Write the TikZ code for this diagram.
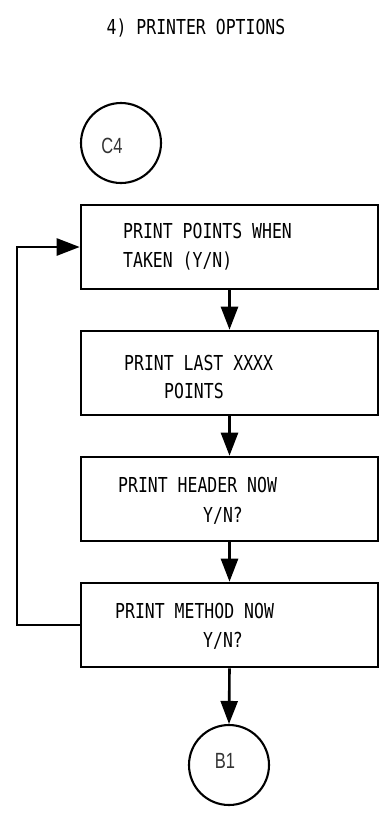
\documentclass[tikz,border=0pt]{standalone}
\usepackage{fontspec}
\usetikzlibrary{arrows.meta}
\newfontfamily\monofnt[FakeStretch=0.80]{DejaVu Sans Mono}
\newfontfamily\circfnt[FakeStretch=0.75]{Liberation Sans}
\tikzset{
  boxnode/.style={draw, line width=2.6pt, rectangle, minimum width=297pt, minimum height=84pt, inner sep=0pt},
  circnode/.style={draw, line width=2.1pt, circle, minimum size=80pt, inner sep=0pt},
  txt/.style={anchor=base west, inner sep=0pt, font=\monofnt\fontsize{20.6}{24}\selectfont},
  ctxt/.style={anchor=center, inner sep=0pt, font=\circfnt\fontsize{22}{26}\selectfont, text=black!80},
  flow/.style={line width=2.6pt, -{Triangle[length=23pt,width=17pt]}},
}
\begin{document}
\begin{tikzpicture}[x=1pt,y=-1pt]
\useasboundingbox (0,0) rectangle (385,815);
\node[anchor=base, inner sep=0pt, font=\monofnt\fontsize{20.6}{24}\selectfont] (title) at (196,34) {4) PRINTER OPTIONS};

\node[circnode] (c4) at (121,143) {};
\node[ctxt] (c4t) at (112,146) {C4};

\node[boxnode] (b1) at (229.5,247) {};
\node[boxnode] (b2) at (229.5,373) {};
\node[boxnode] (b3) at (229.5,499) {};
\node[boxnode] (b4) at (229.5,625) {};

\node[txt] (t1a) at (123,238) {PRINT POINTS WHEN};
\node[txt] (t1b) at (123,267) {TAKEN (Y/N)};
\node[txt] (t2a) at (124,370) {PRINT LAST XXXX};
\node[txt] (t2b) at (164,398) {POINTS};
\node[txt] (t3a) at (118,492) {PRINT HEADER NOW};
\node[txt] (t3b) at (203,522) {Y/N?};
\node[txt] (t4a) at (115,618) {PRINT METHOD NOW};
\node[txt] (t4b) at (203,647) {Y/N?};

\node[circnode] (bb1) at (229,765) {};
\node[ctxt] (bb1t) at (225,761) {B1};

\draw[flow] (b1.south) -- (b2.north);
\draw[flow] (b2.south) -- (b3.north);
\draw[flow] (b3.south) -- (b4.north);
\draw[flow] (b4.south) -- (bb1.north);

\coordinate (lb) at (17,625);
\coordinate (lt) at (17,247);
\draw[flow] (b4.west) -- (lb) -- (lt) -- (b1.west);
\end{tikzpicture}
\end{document}
